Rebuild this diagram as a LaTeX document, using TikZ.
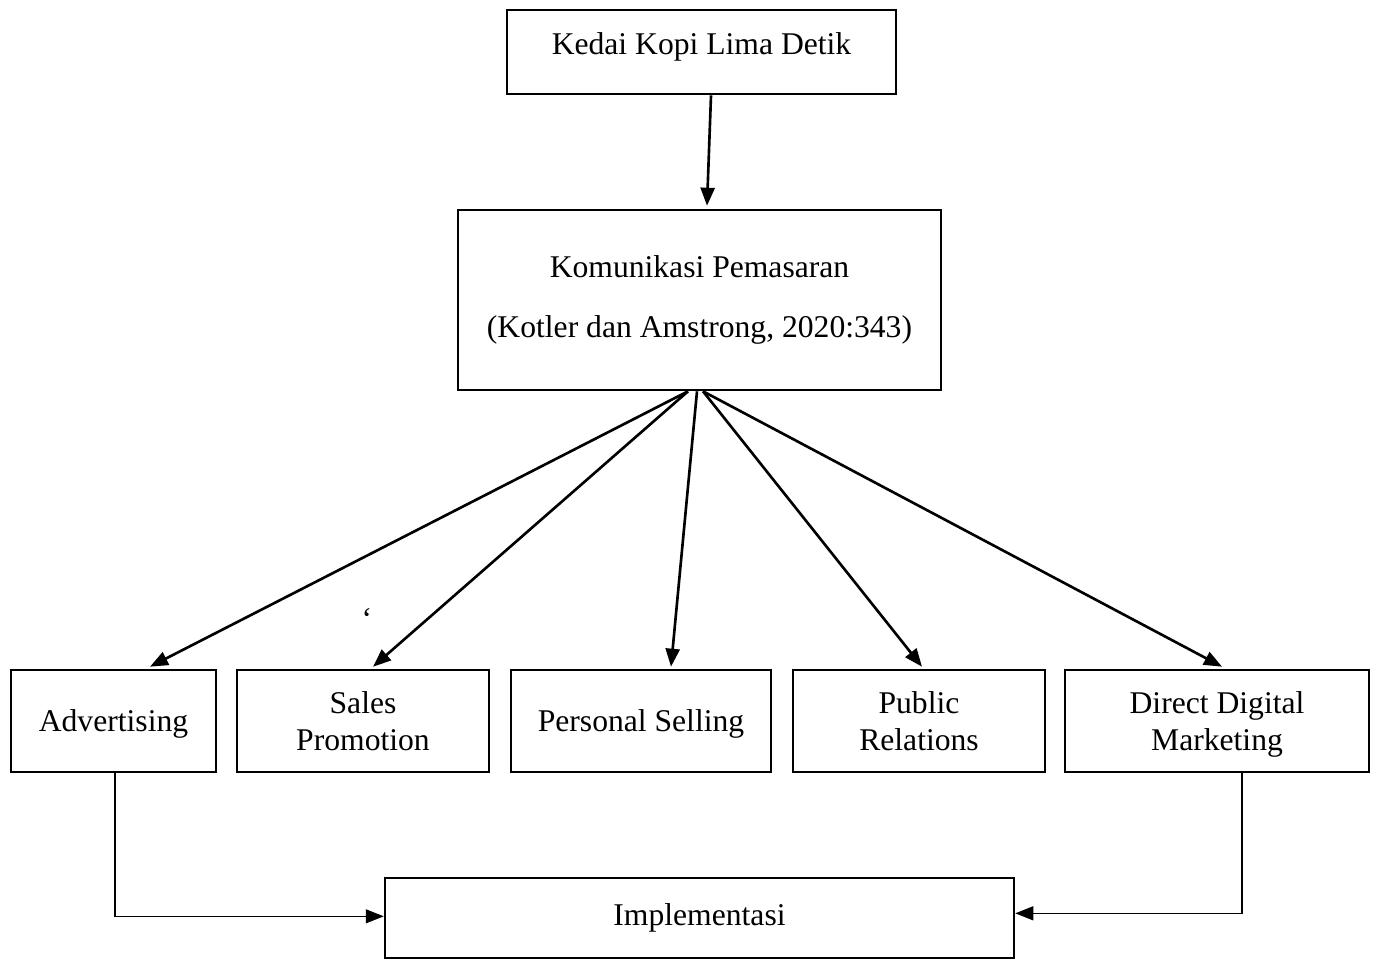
\documentclass[tikz,border=0pt]{standalone}
\usepackage{fontspec}
\setmainfont{Liberation Serif}
\usetikzlibrary{arrows.meta,calc}

\begin{document}
\begin{tikzpicture}[x=0.02cm,y=-0.02cm,
  box/.style={draw,line width=1.5pt,align=center,inner sep=0pt,
    minimum height=2.04cm,font=\fontsize{18}{21.5}\selectfont},
  tool/.style={box,text depth=0pt},
  link/.style={line width=1.5pt,-{Triangle[length=0.36cm,width=0.28cm]}},
  thinlink/.style={line width=0.6pt,-{Triangle[length=0.36cm,width=0.28cm]}}]
\useasboundingbox (0,0) rectangle (1378,960);
% top of the chart
\path
  (701.5,52) node [box,minimum width=7.78cm,minimum height=1.68cm,text depth=10pt] (kedai) {Kedai Kopi Lima Detik}
  (699.5,300) node [box,minimum width=9.66cm,minimum height=3.6cm] (komunikasi)
    {Komunikasi Pemasaran\\[13pt](Kotler dan Amstrong, 2020:343)};
% the five tools
\path
  (113.5,721) node [tool,minimum width=4.1cm] (adv) {Advertising}
  (363,721) node [tool,minimum width=5.04cm] (sales) {Sales\\Promotion}
  (641,721) node [tool,minimum width=5.2cm] (selling) {Personal Selling}
  (919,721) node [tool,minimum width=5.04cm] (pr) {Public\\Relations}
  (1217,721) node [tool,minimum width=6.08cm] (ddm) {Direct Digital\\Marketing}
  (699.5,918) node [box,minimum width=12.58cm,minimum height=1.6cm] (impl) {Implementasi};
\node [font=\fontsize{18}{18}\selectfont] (tick) at (367,619) {‘};
% start and end points
\coordinate (kL) at ($(komunikasi.south)+(-11.5,0)$);
\coordinate (kM) at ($(komunikasi.south)+(-2.5,0)$);
\coordinate (kR) at ($(komunikasi.south)+(3.5,0)$);
\coordinate (advDown) at ($(adv.south)+(1.5,0)$);
\coordinate (advCorner) at ($(adv.south)+(1.5,143)$);
\coordinate (ddmDown) at ($(ddm.south)+(25,0)$);
\coordinate (ddmCorner) at ($(ddm.south)+(25,140)$);
\draw [link] ($(kedai.south)+(9.5,0)$) -- ($(komunikasi.north)+(7.5,-3)$);
\draw [link] (kL) -- ($(adv.north)+(36.5,-2)$);
\draw [link] (kL) -- ($(sales.north)+(10,-2)$);
\draw [link] (kM) -- ($(selling.north)+(30,-2)$);
\draw [link] (kR) -- ($(pr.north)+(3,-2)$);
\draw [link] (kR) -- ($(ddm.north)+(5,-2)$);
\draw [thinlink] (advDown) -- (advCorner) -- (advCorner -| impl.west);
\draw [thinlink] (ddmDown) -- (ddmCorner) -- (ddmCorner -| impl.east);
\end{tikzpicture}
\end{document}
